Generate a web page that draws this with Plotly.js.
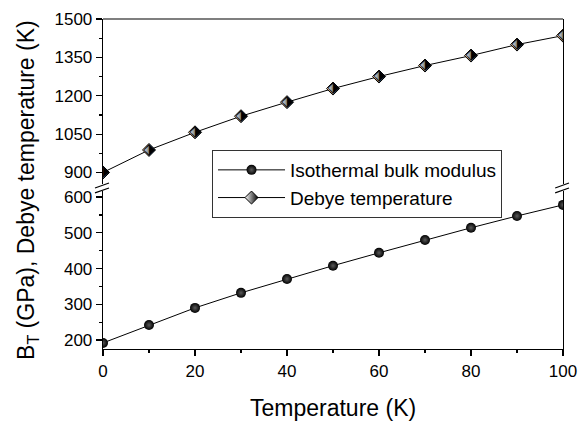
<!DOCTYPE html>
<html>
<head>
<meta charset="utf-8">
<script src="https://cdn.plot.ly/plotly-3.0.1.min.js"></script>
<style>html,body{margin:0;padding:0;background:#fff;}#chart{width:587px;height:428px;}</style>
</head>
<body>
<div id="chart"></div>
<script>
// Data
const temperature = [0, 10, 20, 30, 40, 50, 60, 70, 80, 90, 100];
const bulkModulus = [192, 242, 290, 332, 371, 408, 444, 480, 514, 547, 578];
const debyeTemp = [900, 988, 1057, 1120, 1175, 1228, 1275, 1318, 1357, 1400, 1435];
const seriesNames = ["Isothermal bulk modulus", "Debye temperature"];
const xTitle = "Temperature (K)";
const yTitle = "B<sub>T</sub> (GPa), Debye temperature (K)";

const FONT = "Liberation Sans, Arial, sans-serif";
const halfDiamond = temperature.map(() => "\u2B17");

const traces = [
  {
    x: temperature, y: bulkModulus, name: seriesNames[0], type: "scatter",
    mode: "lines+markers", xaxis: "x", yaxis: "y",
    line: {color: "#000", width: 1},
    marker: {symbol: "circle", size: 10, color: "#000",
             gradient: {type: "radial", color: "#5a5a5a"}, line: {width: 0}}
  },
  {
    x: temperature, y: debyeTemp, name: seriesNames[1], type: "scatter",
    mode: "lines+markers", xaxis: "x", yaxis: "y2",
    line: {color: "#000", width: 1},
    marker: {symbol: "diamond", size: 10, color: "#fff",
             gradient: {type: "horizontal", color: "#000"},
             line: {color: "#000", width: 1}}
  },
  {
    x: temperature, y: debyeTemp, type: "scatter", mode: "text",
    xaxis: "x", yaxis: "y2", showlegend: false, hoverinfo: "skip",
    text: halfDiamond, textposition: "middle center",
    textfont: {family: "DejaVu Sans", size: 15, color: "#000"}
  }
];

const tickFont = {family: FONT, size: 17, color: "#000"};
const layout = {
  width: 587, height: 428,
  margin: {l: 103, r: 24, t: 19, b: 79},
  paper_bgcolor: "#fff", plot_bgcolor: "#fff",
  showlegend: true,
  legend: {
    x: 0.237, y: 0.603, xanchor: "left", yanchor: "top",
    bgcolor: "#fff", bordercolor: "#333", borderwidth: 1,
    font: {family: FONT, size: 19, color: "#000"},
    itemwidth: 67, tracegroupgap: 0
  },
  xaxis: {
    range: [0, 100], anchor: "y", showgrid: false, zeroline: false,
    showline: true, linecolor: "#000", linewidth: 1.3,
    ticks: "outside", ticklen: 6, tickwidth: 1.2, tickcolor: "#000",
    tick0: 0, dtick: 20, tickfont: tickFont,
    minor: {dtick: 10, ticks: "outside", ticklen: 3, tickwidth: 1.2, tickcolor: "#000", showgrid: false}
  },
  yaxis: {
    domain: [0, 0.480], range: [175, 618], anchor: "x",
    showgrid: false, zeroline: false,
    showline: true, mirror: true, linecolor: "#000", linewidth: 1.3,
    ticks: "outside", ticklen: 6, tickwidth: 1.2, tickcolor: "#000",
    tick0: 0, dtick: 100, tickfont: tickFont,
    minor: {dtick: 50, ticks: "outside", ticklen: 3, tickwidth: 1.2, tickcolor: "#000", showgrid: false}
  },
  yaxis2: {
    domain: [0.4985, 1], range: [853, 1500], anchor: "x",
    showgrid: false, zeroline: false,
    showline: true, mirror: true, linecolor: "#000", linewidth: 1.3,
    ticks: "outside", ticklen: 6, tickwidth: 1.2, tickcolor: "#000",
    tick0: 0, dtick: 150, tickfont: tickFont,
    minor: {dtick: 75, ticks: "outside", ticklen: 3, tickwidth: 1.2, tickcolor: "#000", showgrid: false}
  },
  shapes: [
    {type: "line", xref: "paper", yref: "paper", x0: 0, x1: 1, y0: 1, y1: 1, line: {color: "#555", width: 1.5}},
    {type: "line", xref: "paper", yref: "paper", x0: -0.0174, y0: 0.488, x1: 0.013, y1: 0.503, line: {color: "#000", width: 1.2}},
    {type: "line", xref: "paper", yref: "paper", x0: -0.0174, y0: 0.473, x1: 0.013, y1: 0.488, line: {color: "#000", width: 1.2}},
    {type: "line", xref: "paper", yref: "paper", x0: 0.983, y0: 0.488, x1: 1.013, y1: 0.503, line: {color: "#000", width: 1.2}},
    {type: "line", xref: "paper", yref: "paper", x0: 0.983, y0: 0.473, x1: 1.013, y1: 0.488, line: {color: "#000", width: 1.2}}
  ],
  annotations: [
    {text: xTitle, xref: "paper", yref: "paper", x: 0.5, y: -0.18, xanchor: "center", yanchor: "middle",
     showarrow: false, font: {family: FONT, size: 23, color: "#000"}},
    {text: yTitle, xref: "paper", yref: "paper", x: -0.163, y: 0.482, xanchor: "center", yanchor: "middle",
     textangle: -90, showarrow: false, font: {family: FONT, size: 23, color: "#000"}}
  ]
};

Plotly.newPlot("chart", traces, layout, {staticPlot: true, displayModeBar: false});
</script>
</body>
</html>
